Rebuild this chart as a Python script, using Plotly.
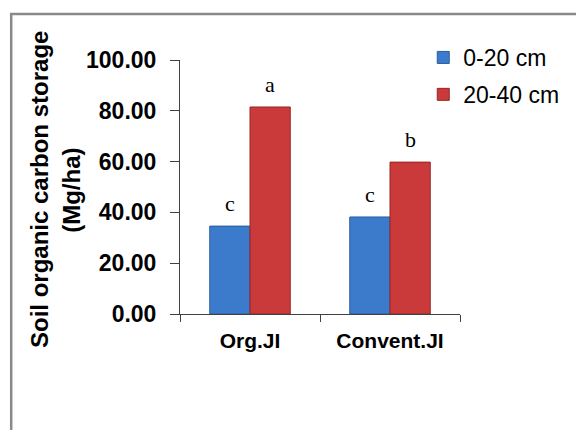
import plotly.graph_objects as go

categories = ["Org.JI", "Convent.JI"]
series_names = ["0-20 cm", "20-40 cm"]
values_0_20 = [34.6, 38.2]
values_20_40 = [81.5, 59.8]
letters_0_20 = ["c", "c"]
letters_20_40 = ["a", "b"]
y_ticks = [0, 20, 40, 60, 80, 100]

W, H = 576, 430
ML, MR, MT, MB = 180, 114, 60, 116
PW, PH = W - ML - MR, H - MT - MB


def px_x(p):
    return (p - ML) / PW


def px_y(p):
    return (H - MB - p) / PH


BARGAP = 0.425
blue = "#3C7BCB"
red = "#CB3A3A"
SANS = "Liberation Sans, Arial, sans-serif"

fig = go.Figure()
fig.add_trace(go.Bar(
    x=categories, y=values_0_20, name=series_names[0],
    marker=dict(color=blue, line=dict(color="#2A5C9E", width=1)),
    legendgroup="a",
))
fig.add_trace(go.Bar(
    x=categories, y=values_20_40, name=series_names[1],
    marker=dict(color=red, line=dict(color="#962626", width=1)),
    legendgroup="b",
))

# significance letters above bars
half = (1 - BARGAP) / 4
for i in range(len(categories)):
    for off, vals, lets in ((-half, values_0_20, letters_0_20), (half, values_20_40, letters_20_40)):
        fig.add_annotation(
            x=i + off, y=vals[i], xref="x", yref="y", text=lets[i],
            showarrow=False, yanchor="bottom", yshift=8,
            font=dict(family="Liberation Serif, Times New Roman, serif", size=22, color="black"),
        )

# y-axis title (two lines)
for txt, xp in (("Soil organic carbon storage", 38), ("(Mg/ha)", 70)):
    fig.add_annotation(
        x=px_x(xp), y=px_y(190), xref="paper", yref="paper", text=txt,
        textangle=-90, showarrow=False, xanchor="center", yanchor="middle",
        font=dict(family=SANS, size=24, color="black", weight="bold"),
    )

# outer frame
fig.add_shape(type="line", xref="paper", yref="paper",
              x0=px_x(10), x1=px_x(10), y0=px_y(13), y1=px_y(440),
              line=dict(color="#8a8a8a", width=2.5))
fig.add_shape(type="line", xref="paper", yref="paper",
              x0=px_x(9), x1=px_x(590), y0=px_y(14), y1=px_y(14),
              line=dict(color="#8a8a8a", width=2.5))

fig.update_layout(
    width=W, height=H,
    margin=dict(l=ML, r=MR, t=MT, b=MB, pad=0),
    paper_bgcolor="white", plot_bgcolor="white",
    barmode="group", bargap=BARGAP, bargroupgap=0,
    font=dict(family=SANS, color="black"),
    legend=dict(
        x=px_x(425), y=px_y(36), xanchor="left", yanchor="top",
        font=dict(size=23, color="black"), tracegroupgap=4,
        bgcolor="rgba(0,0,0,0)",
    ),
    xaxis=dict(
        type="category", showline=True, linecolor="#404040", linewidth=1,
        ticks="outside", tickson="boundaries", ticklen=7, tickcolor="#404040",
        tickfont=dict(size=21, family=SANS, weight="bold"),
        showgrid=False, ticklabelstandoff=8,
    ),
    yaxis=dict(
        range=[0, 100], tickvals=y_ticks, tickformat=".2f",
        showline=True, linecolor="#404040", linewidth=1,
        ticks="outside", ticklen=9, tickcolor="#404040",
        tickfont=dict(size=23, family=SANS, weight="bold"),
        showgrid=False, zeroline=False, ticklabelstandoff=9,
    ),
)

fig.write_html("out.html", config={"displayModeBar": False},
               post_script="document.body.style.margin='0';")
